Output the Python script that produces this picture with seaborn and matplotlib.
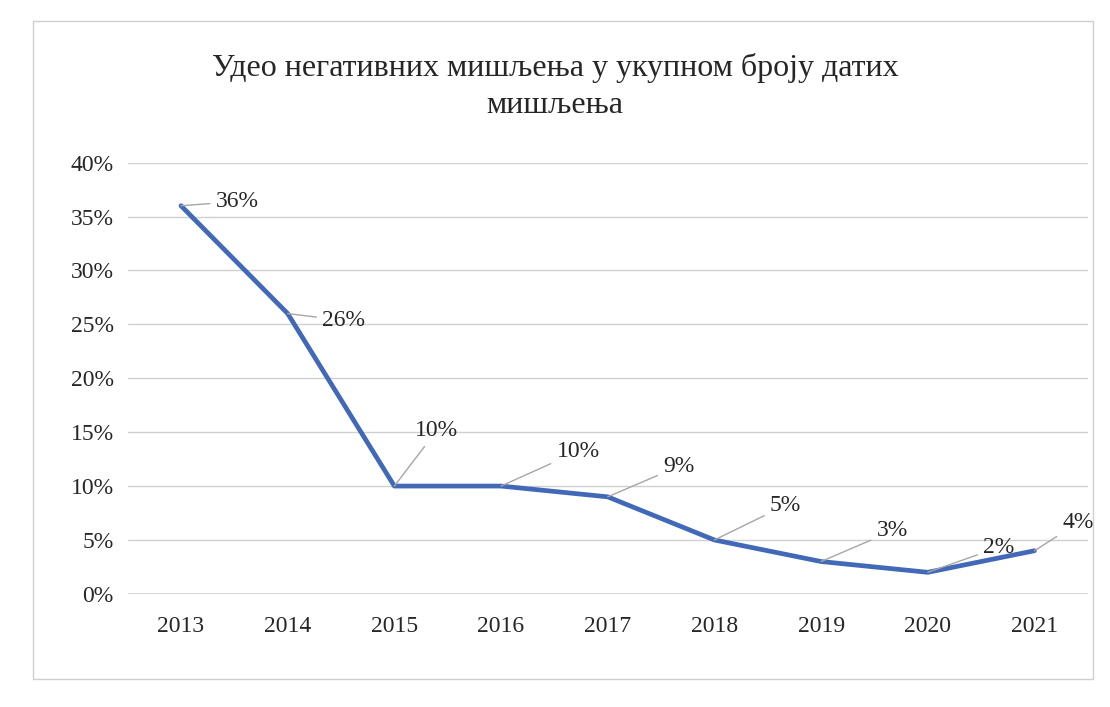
import matplotlib
matplotlib.use("Agg")
import matplotlib.pyplot as plt
import seaborn as sns
import pandas as pd
from matplotlib.patches import Rectangle

years = ["2013", "2014", "2015", "2016", "2017", "2018", "2019", "2020", "2021"]
values = [0.36, 0.26, 0.10, 0.10, 0.09, 0.05, 0.03, 0.02, 0.04]
labels = ["36%", "26%", "10%", "10%", "9%", "5%", "3%", "2%", "4%"]
yticks = [0, 0.05, 0.10, 0.15, 0.20, 0.25, 0.30, 0.35, 0.40]
ytick_labels = ["0%", "5%", "10%", "15%", "20%", "25%", "30%", "35%", "40%"]
title = "Удео негативних мишљења у укупном броју датих\nмишљења"

sns.set_theme(style="white")
plt.rcParams["font.family"] = ["Liberation Serif", "DejaVu Serif"]

df = pd.DataFrame({"year": years, "value": values})

fig = plt.figure(figsize=(11.1, 7.07), dpi=100)
ax = fig.add_axes([0.115, 0.16, 0.865, 0.61])

sns.lineplot(data=df, x="year", y="value", ax=ax, color="#4169B8", linewidth=3.4)

ax.set_xlim(-0.5, 8.5)
ax.set_ylim(0, 0.4)
ax.set_yticks(yticks)
ax.set_yticklabels(ytick_labels, fontsize=17, color="#262626")
ax.set_xticks(range(len(years)))
ax.set_xticklabels(years, fontsize=17, color="#262626")
ax.tick_params(axis="x", pad=16, length=0)
ax.tick_params(axis="y", pad=10, length=0)
ax.set_xlabel("")
ax.set_ylabel("")
ax.grid(axis="y", color="#d0d0d0", linewidth=1)
for s in ax.spines.values():
    s.set_visible(False)
ax.axhline(0, color="#d0d0d0", linewidth=1.2, zorder=0)

offsets = [(25, 3), (25, -5), (15, 40), (40, 25), (40, 22), (40, 25), (40, 22), (40, 18), (20, 20)]
for i, (v, lab, off) in enumerate(zip(values, labels, offsets)):
    ax.annotate(lab, xy=(i, v), xytext=off, textcoords="offset points",
                fontsize=17, color="#262626", va="center", ha="left",
                arrowprops=dict(arrowstyle="-", color="#a6a6a6", lw=1,
                                shrinkA=2, shrinkB=0))

fig.suptitle(title, y=0.925, fontsize=23, color="#262626", linespacing=1.35)

fig.patches.append(Rectangle((0.03, 0.04), 0.955, 0.93, transform=fig.transFigure,
                             fill=False, edgecolor="#d0d0d0", linewidth=1))

fig.savefig("out.png", dpi=100)
